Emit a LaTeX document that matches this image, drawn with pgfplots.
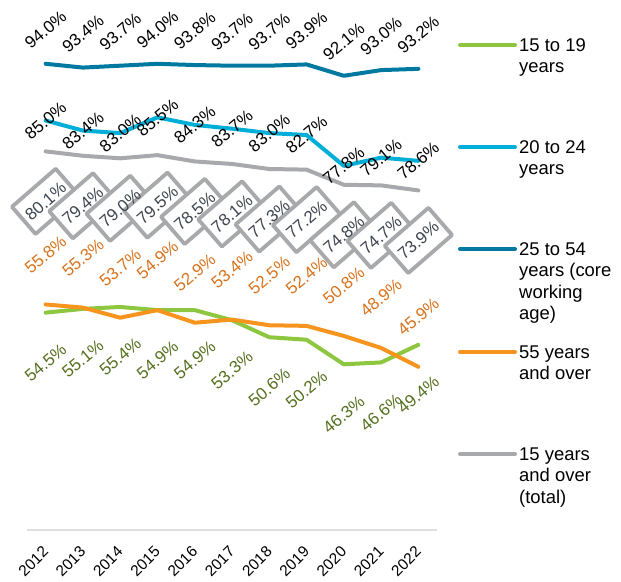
\documentclass[border=0pt]{standalone}
\usepackage{fontspec}
\setmainfont{Liberation Sans}
\usepackage{pgfplots}
\pgfplotsset{compat=1.18}
\definecolor{cgreen}{HTML}{8DC63F}
\definecolor{clblue}{HTML}{00AFD7}
\definecolor{cdblue}{HTML}{0079A1}
\definecolor{corange}{HTML}{F7941D}
\definecolor{cgray}{HTML}{A7A9AC}
\definecolor{tgreen}{HTML}{55701F}
\definecolor{torange}{HTML}{D8731E}
\definecolor{tgray}{HTML}{3E4650}
\pgfplotstableread{
year total
2012 80.1
2013 79.4
2014 79.0
2015 79.5
2016 78.5
2017 78.1
2018 77.3
2019 77.2
2020 74.8
2021 74.7
2022 73.9
}\totaltab
\begin{document}
\begin{tikzpicture}
\useasboundingbox (-27bp,-52bp) rectangle (594bp,530bp);
\begin{axis}[at={(0,0)}, anchor=south west, scale only axis,
  width=410bp, height=504bp,
  xmin=2011.5, xmax=2022.5, ymin=20, ymax=100, clip=false,
  axis y line=none, axis x line*=bottom,
  x axis line style={draw=black!12, line width=1.5bp, -},
  xtick={2012,2013,2014,2015,2016,2017,2018,2019,2020,2021,2022},
  xticklabels={2012,2013,2014,2015,2016,2017,2018,2019,2020,2021,2022},
  major tick length=0pt,
  xticklabel style={inner sep=0pt, xshift=0bp, yshift=-19bp, rotate=45, anchor=east, font=\fontsize{15.5}{17}\selectfont},
  every axis plot/.append style={line width=4bp, line cap=round, line join=round, mark=none},
  nodes near coords={\pgfmathprintnumber[fixed,fixed zerofill,precision=1,assume math mode=true]{\pgfplotspointmeta}\%},
  every node near coord/.append style={font=\fontsize{17}{19}\selectfont, anchor=center, inner sep=0pt},
]
% 15 years and over (total): line and boxes
\addplot[cgray, nodes near coords={\phantom{\pgfmathprintnumber[fixed,fixed zerofill,precision=1,assume math mode=true]{\pgfplotspointmeta}\%}},
  every node near coord/.append style={yshift=-50bp, rotate=41, draw=cgray, line width=3.8bp, fill=white, inner xsep=5bp, inner ysep=12bp}] table[x=year, y=total] {\totaltab};
% 15 years and over (total): label text on top of the boxes
\addplot[draw=none, every node near coord/.append style={yshift=-50bp, rotate=41, text=tgray}] table[x=year, y=total] {\totaltab};
% 15 to 19
\addplot[cgreen, every node near coord/.append style={yshift=-50bp, rotate=40, text=tgreen}] coordinates {
(2012,54.5) (2013,55.1) (2014,55.4) (2015,54.9) (2016,54.9) (2017,53.3) (2018,50.6) (2019,50.2) (2020,46.3) (2021,46.6) (2022,49.4)};
% 55 and over
\addplot[corange, every node near coord/.append style={yshift=50bp, rotate=40, text=torange}] coordinates {
(2012,55.8) (2013,55.3) (2014,53.7) (2015,54.9) (2016,52.9) (2017,53.4) (2018,52.5) (2019,52.4) (2020,50.8) (2021,48.9) (2022,45.9)};
% 20 to 24
\addplot[clblue, every node near coord/.append style={rotate=40, text=black}] coordinates {
(2012,85.0) (2013,83.4) (2014,83.0) (2015,85.5) (2016,84.3) (2017,83.7) (2018,83.0) (2019,82.7) (2020,77.8) (2021,79.1) (2022,78.6)};
% 25 to 54
\addplot[cdblue, every node near coord/.append style={yshift=34bp, rotate=40, text=black}] coordinates {
(2012,94.0) (2013,93.4) (2014,93.7) (2015,94.0) (2016,93.8) (2017,93.7) (2018,93.7) (2019,93.9) (2020,92.1) (2021,93.0) (2022,93.2)};
\end{axis}
\begin{scope}[every node/.style={anchor=north west, align=left, inner sep=0pt, font=\fontsize{18.5}{21.5}\selectfont}]
\draw[cgreen, line width=4bp, line cap=round] (433bp,485bp) -- (488bp,485bp);
\node at (492bp,491.6bp) {15 to 19\\years};
\draw[clblue, line width=4bp, line cap=round] (433bp,383bp) -- (488bp,383bp);
\node at (492bp,389.6bp) {20 to 24\\years};
\draw[cdblue, line width=4bp, line cap=round] (433bp,281bp) -- (488bp,281bp);
\node at (492bp,287.6bp) {25 to 54\\years (core\\working\\age)};
\draw[corange, line width=4bp, line cap=round] (433bp,178bp) -- (488bp,178bp);
\node at (492bp,184.6bp) {55 years\\and over};
\draw[cgray, line width=4bp, line cap=round] (433bp,76bp) -- (488bp,76bp);
\node at (492bp,82.6bp) {15 years\\and over\\(total)};
\end{scope}
\end{tikzpicture}
\end{document}
